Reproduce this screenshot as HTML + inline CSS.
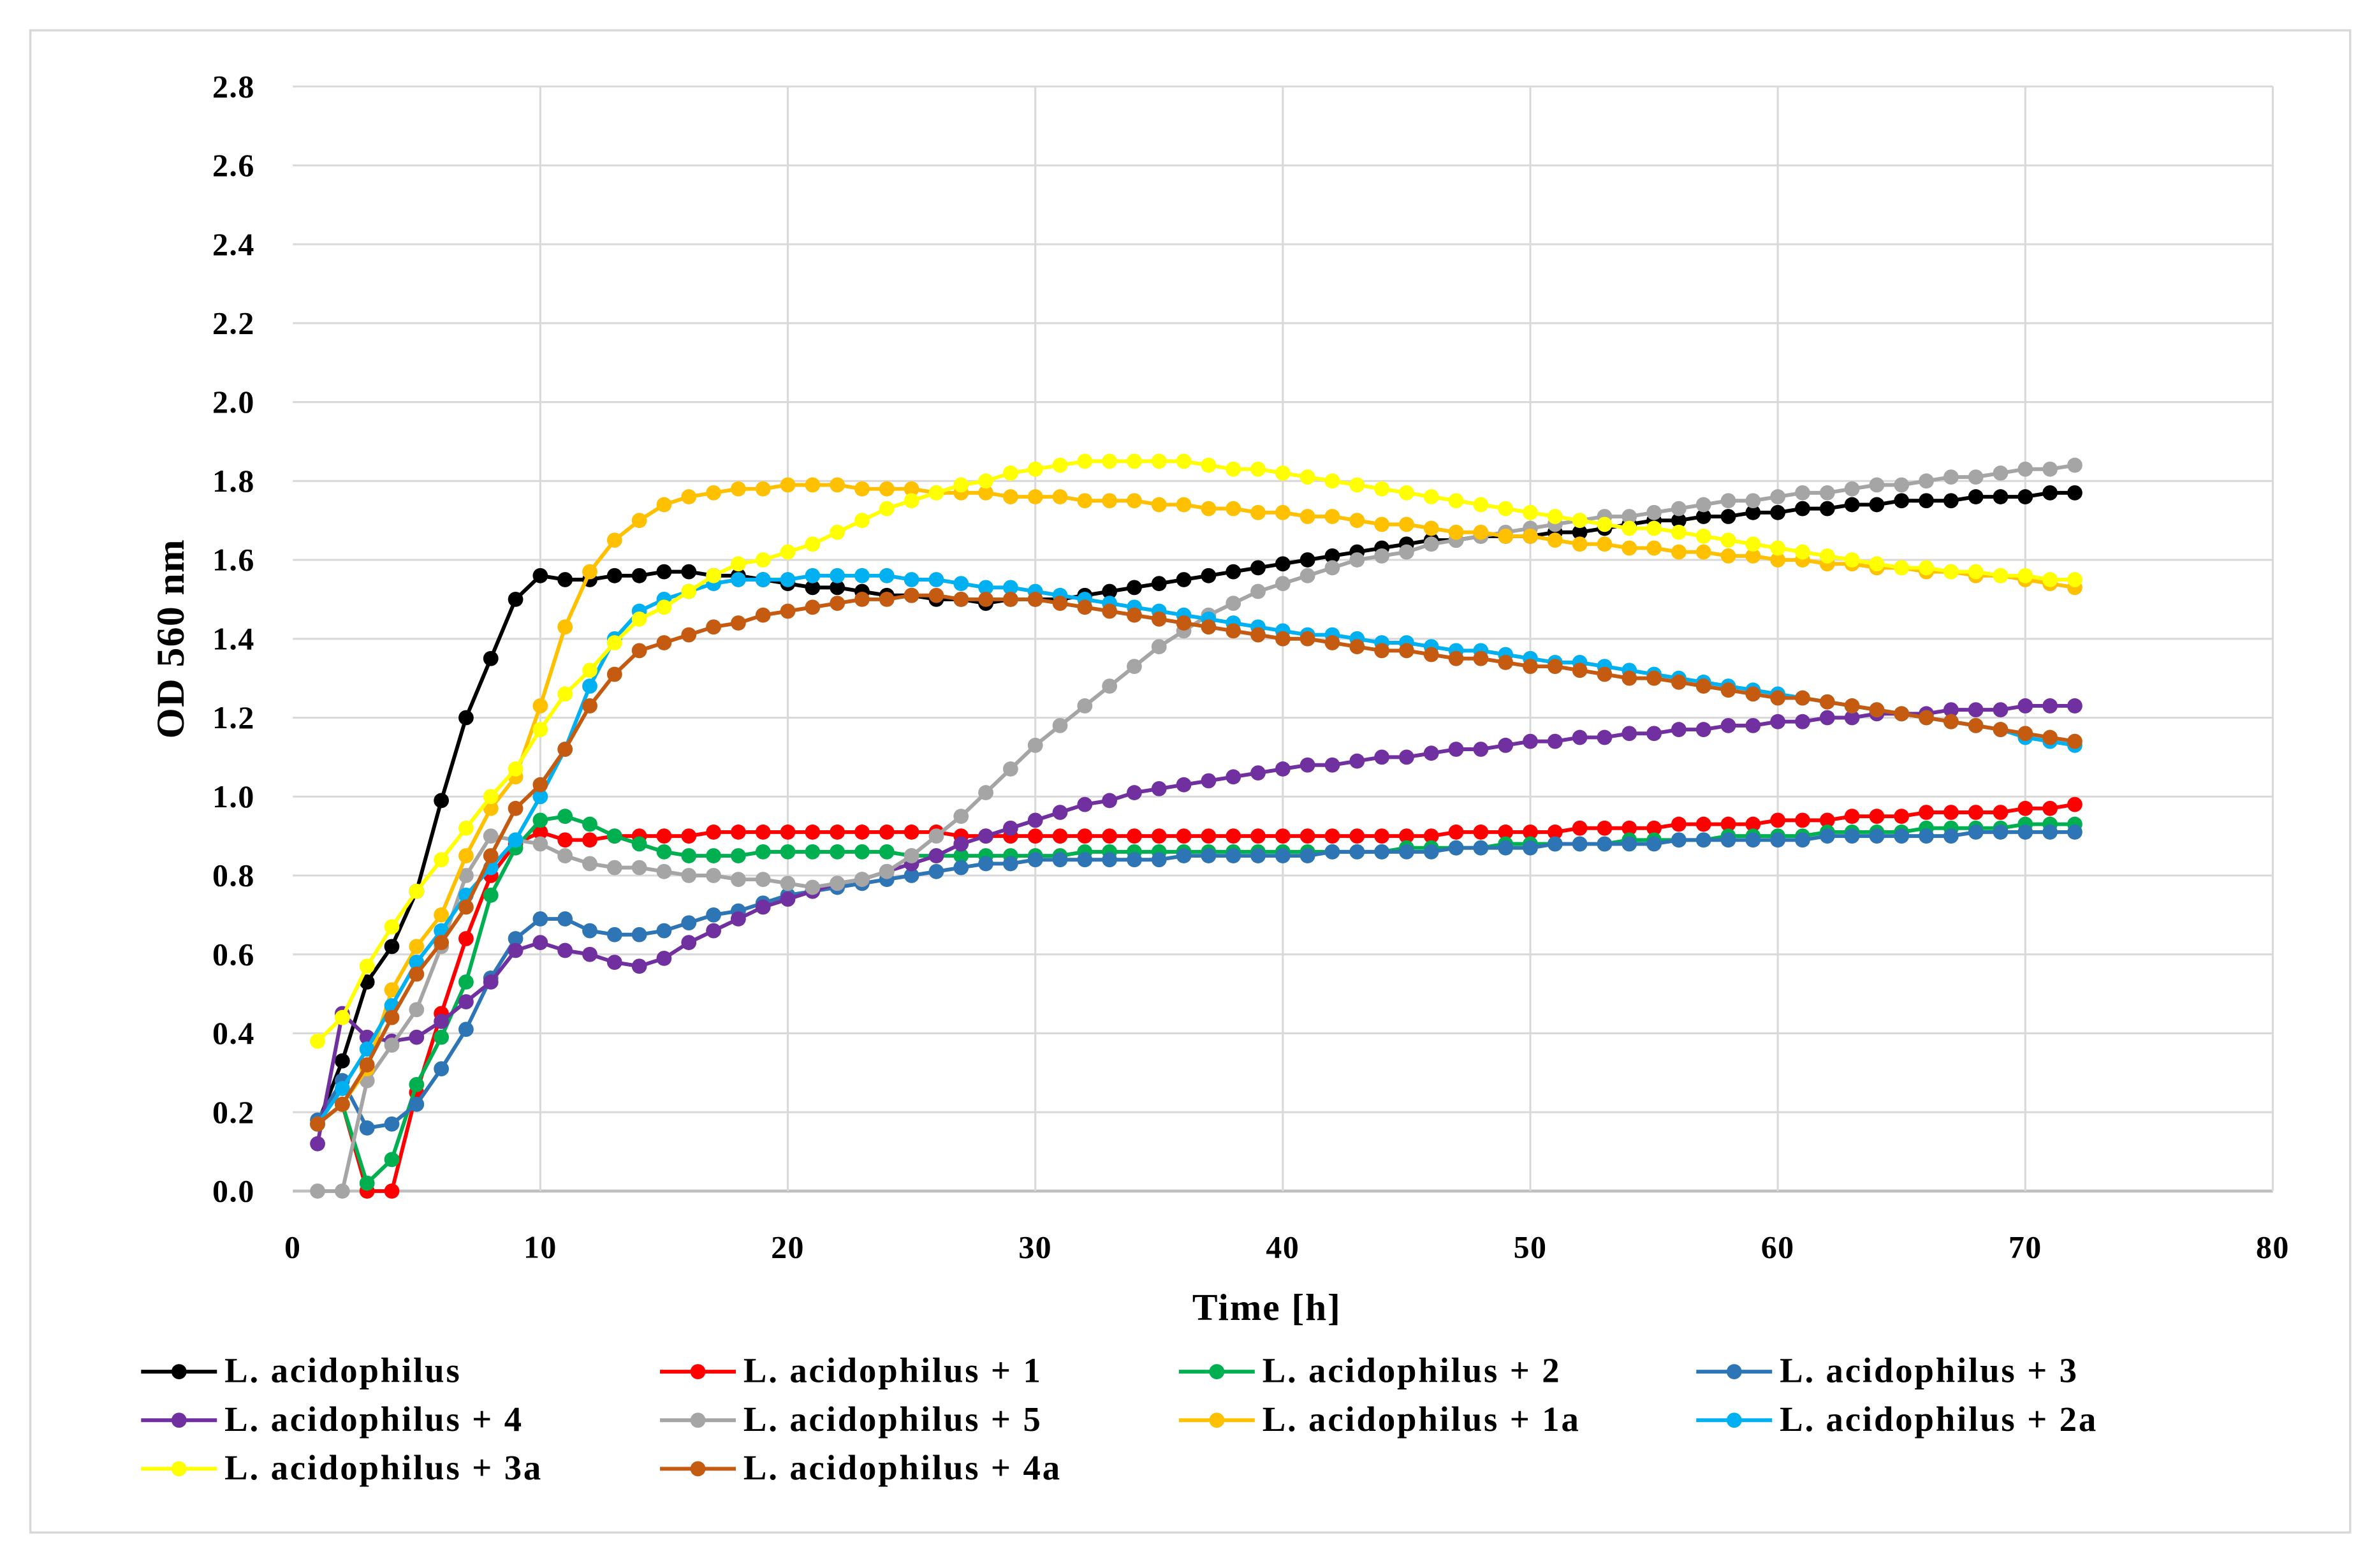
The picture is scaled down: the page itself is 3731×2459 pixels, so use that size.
<!DOCTYPE html>
<html><head><meta charset="utf-8">
<style>
html,body{margin:0;padding:0;background:#fff;}
svg{display:block;}
text{font-family:"Liberation Serif",serif;font-weight:bold;fill:#000;}
</style></head>
<body>
<svg id="chart" width="3731" height="2459" viewBox="0 0 1568 1033.4" preserveAspectRatio="none" xmlns="http://www.w3.org/2000/svg">
<rect x="20" y="20" width="1529" height="990" fill="#fff" stroke="#d9d9d9" stroke-width="1.5"/>
<g id="grid"></g>
<g id="axes"></g>
<g id="series"></g>
<text transform="translate(121,421) rotate(-90)" text-anchor="middle" font-size="26" letter-spacing="0.5">OD 560 nm</text>
<text x="835" y="870" text-anchor="middle" font-size="25" letter-spacing="0.8">Time [h]</text>
<g id="legend"></g>
</svg>
<script>
const xTicks = [0,10,20,30,40,50,60,70,80];
const yTicks = [0,0.2,0.4,0.6,0.8,1.0,1.2,1.4,1.6,1.8,2.0,2.2,2.4,2.6,2.8];
const seriesNames = ["L. acidophilus","L. acidophilus + 1","L. acidophilus + 2","L. acidophilus + 3","L. acidophilus + 4","L. acidophilus + 5","L. acidophilus + 1a","L. acidophilus + 2a","L. acidophilus + 3a","L. acidophilus + 4a"];
const seriesColors = ["#000000","#ff0000","#00b050","#2e75b6","#7030a0","#a5a5a5","#ffc000","#00b0f0","#ffff00","#c55a11"];
const sBlack = [0.17,0.33,0.53,0.62,0.76,0.99,1.20,1.35,1.50,1.56,1.55,1.55,1.56,1.56,1.57,1.57,1.56,1.56,1.55,1.54,1.53,1.53,1.52,1.51,1.51,1.50,1.50,1.49,1.50,1.50,1.50,1.51,1.52,1.53,1.54,1.55,1.56,1.57,1.58,1.59,1.60,1.61,1.62,1.63,1.64,1.65,1.65,1.66,1.66,1.66,1.67,1.67,1.68,1.69,1.70,1.70,1.71,1.71,1.72,1.72,1.73,1.73,1.74,1.74,1.75,1.75,1.75,1.76,1.76,1.76,1.77,1.77];
const sRed = [0.17,0.22,0.0,0.0,0.25,0.45,0.64,0.80,0.88,0.91,0.89,0.89,0.90,0.90,0.90,0.90,0.91,0.91,0.91,0.91,0.91,0.91,0.91,0.91,0.91,0.91,0.90,0.90,0.90,0.90,0.90,0.90,0.90,0.90,0.90,0.90,0.90,0.90,0.90,0.90,0.90,0.90,0.90,0.90,0.90,0.90,0.91,0.91,0.91,0.91,0.91,0.92,0.92,0.92,0.92,0.93,0.93,0.93,0.93,0.94,0.94,0.94,0.95,0.95,0.95,0.96,0.96,0.96,0.96,0.97,0.97,0.98];
const sGreen = [0.17,0.22,0.02,0.08,0.27,0.39,0.53,0.75,0.87,0.94,0.95,0.93,0.90,0.88,0.86,0.85,0.85,0.85,0.86,0.86,0.86,0.86,0.86,0.86,0.85,0.85,0.85,0.85,0.85,0.85,0.85,0.86,0.86,0.86,0.86,0.86,0.86,0.86,0.86,0.86,0.86,0.86,0.86,0.86,0.87,0.87,0.87,0.87,0.88,0.88,0.88,0.88,0.88,0.89,0.89,0.89,0.89,0.90,0.90,0.90,0.90,0.91,0.91,0.91,0.91,0.92,0.92,0.92,0.92,0.93,0.93,0.93];
const sBlue = [0.18,0.28,0.16,0.17,0.22,0.31,0.41,0.54,0.64,0.69,0.69,0.66,0.65,0.65,0.66,0.68,0.70,0.71,0.73,0.75,0.76,0.77,0.78,0.79,0.80,0.81,0.82,0.83,0.83,0.84,0.84,0.84,0.84,0.84,0.84,0.85,0.85,0.85,0.85,0.85,0.85,0.86,0.86,0.86,0.86,0.86,0.87,0.87,0.87,0.87,0.88,0.88,0.88,0.88,0.88,0.89,0.89,0.89,0.89,0.89,0.89,0.90,0.90,0.90,0.90,0.90,0.90,0.91,0.91,0.91,0.91,0.91];
const sPurple = [0.12,0.45,0.39,0.38,0.39,0.43,0.48,0.53,0.61,0.63,0.61,0.60,0.58,0.57,0.59,0.63,0.66,0.69,0.72,0.74,0.76,0.78,0.79,0.81,0.83,0.85,0.88,0.90,0.92,0.94,0.96,0.98,0.99,1.01,1.02,1.03,1.04,1.05,1.06,1.07,1.08,1.08,1.09,1.10,1.10,1.11,1.12,1.12,1.13,1.14,1.14,1.15,1.15,1.16,1.16,1.17,1.17,1.18,1.18,1.19,1.19,1.20,1.20,1.21,1.21,1.21,1.22,1.22,1.22,1.23,1.23,1.23];
const sGray = [0.0,0.0,0.28,0.37,0.46,0.62,0.80,0.90,0.89,0.88,0.85,0.83,0.82,0.82,0.81,0.80,0.80,0.79,0.79,0.78,0.77,0.78,0.79,0.81,0.85,0.90,0.95,1.01,1.07,1.13,1.18,1.23,1.28,1.33,1.38,1.42,1.46,1.49,1.52,1.54,1.56,1.58,1.60,1.61,1.62,1.64,1.65,1.66,1.67,1.68,1.69,1.70,1.71,1.71,1.72,1.73,1.74,1.75,1.75,1.76,1.77,1.77,1.78,1.79,1.79,1.80,1.81,1.81,1.82,1.83,1.83,1.84];
const sOrange = [0.17,0.22,0.31,0.51,0.62,0.70,0.85,0.97,1.05,1.23,1.43,1.57,1.65,1.70,1.74,1.76,1.77,1.78,1.78,1.79,1.79,1.79,1.78,1.78,1.78,1.77,1.77,1.77,1.76,1.76,1.76,1.75,1.75,1.75,1.74,1.74,1.73,1.73,1.72,1.72,1.71,1.71,1.70,1.69,1.69,1.68,1.67,1.67,1.66,1.66,1.65,1.64,1.64,1.63,1.63,1.62,1.62,1.61,1.61,1.60,1.60,1.59,1.59,1.58,1.58,1.57,1.57,1.56,1.56,1.55,1.54,1.53];
const sCyan = [0.17,0.26,0.36,0.47,0.58,0.66,0.75,0.82,0.89,1.00,1.12,1.28,1.40,1.47,1.50,1.52,1.54,1.55,1.55,1.55,1.56,1.56,1.56,1.56,1.55,1.55,1.54,1.53,1.53,1.52,1.51,1.50,1.49,1.48,1.47,1.46,1.45,1.44,1.43,1.42,1.41,1.41,1.40,1.39,1.39,1.38,1.37,1.37,1.36,1.35,1.34,1.34,1.33,1.32,1.31,1.30,1.29,1.28,1.27,1.26,1.25,1.24,1.23,1.22,1.21,1.20,1.19,1.18,1.17,1.15,1.14,1.13];
const sYellow = [0.38,0.44,0.57,0.67,0.76,0.84,0.92,1.00,1.07,1.17,1.26,1.32,1.39,1.45,1.48,1.52,1.56,1.59,1.60,1.62,1.64,1.67,1.70,1.73,1.75,1.77,1.79,1.80,1.82,1.83,1.84,1.85,1.85,1.85,1.85,1.85,1.84,1.83,1.83,1.82,1.81,1.80,1.79,1.78,1.77,1.76,1.75,1.74,1.73,1.72,1.71,1.70,1.69,1.68,1.68,1.67,1.66,1.65,1.64,1.63,1.62,1.61,1.60,1.59,1.58,1.58,1.57,1.57,1.56,1.56,1.55,1.55];
const sBrown = [0.17,0.22,0.32,0.44,0.55,0.63,0.72,0.85,0.97,1.03,1.12,1.23,1.31,1.37,1.39,1.41,1.43,1.44,1.46,1.47,1.48,1.49,1.50,1.50,1.51,1.51,1.50,1.50,1.50,1.50,1.49,1.48,1.47,1.46,1.45,1.44,1.43,1.42,1.41,1.40,1.40,1.39,1.38,1.37,1.37,1.36,1.35,1.35,1.34,1.33,1.33,1.32,1.31,1.30,1.30,1.29,1.28,1.27,1.26,1.25,1.25,1.24,1.23,1.22,1.21,1.20,1.19,1.18,1.17,1.16,1.15,1.14];
const seriesData = [sBlack,sRed,sGreen,sBlue,sPurple,sGray,sOrange,sCyan,sYellow,sBrown];

const NS = "http://www.w3.org/2000/svg";
const X0 = 193, X1 = 1498, Y0 = 785, Y1 = 57;
const xMax = 80, yMax = 2.8;
function xs(v){ return X0 + (v / xMax) * (X1 - X0); }
function ys(v){ return Y0 - (v / yMax) * (Y0 - Y1); }
function mk(tag, attrs, parent){
  const e = document.createElementNS(NS, tag);
  for (const k in attrs) e.setAttribute(k, attrs[k]);
  parent.appendChild(e);
  return e;
}
const grid = document.getElementById('grid');
const axes = document.getElementById('axes');
yTicks.forEach(function(t){
  const l = mk('line', {x1:X0, x2:X1, y1:ys(t), y2:ys(t), stroke: t===0 ? '#bfbfbf' : '#d9d9d9', 'stroke-width': t===0 ? 2 : 1.3}, grid);
  
  
  const tx = mk('text', {x:168, y:ys(t)+7, 'text-anchor':'end', 'font-size':21, 'letter-spacing':0.6}, axes);
  tx.textContent = t.toFixed(1);
  
  
});
xTicks.forEach(function(t){
  if (t > 0) {
    const l = mk('line', {x1:xs(t), x2:xs(t), y1:Y1, y2:Y0, stroke:'#d9d9d9', 'stroke-width':1.3}, grid);
    
    
  }
  const tx = mk('text', {x:xs(t), y:829, 'text-anchor':'middle', 'font-size':21, 'letter-spacing':0.6}, axes);
  tx.textContent = String(t);
  
  
});
const sg = document.getElementById('series');
seriesData.forEach(function(arr, si){
  const g = mk('g', {}, sg);
  
  
  const pts = arr.map(function(v, i){ return xs(i+1) + ',' + ys(v); }).join(' ');
  const pl = mk('polyline', {points:pts, fill:'none', stroke:seriesColors[si], 'stroke-width':2.5, 'stroke-linejoin':'round'}, g);
  
  
  arr.forEach(function(v, i){
    const c = mk('circle', {cx:xs(i+1), cy:ys(v), r:5, fill:seriesColors[si]}, g);
    
    
  });
});
const lg = document.getElementById('legend');
const colX = [93, 435, 777, 1118];
const rowY = [904, 936, 968];
seriesNames.forEach(function(n, i){
  const x = colX[i % 4], y = rowY[Math.floor(i / 4)];
  const g = mk('g', {}, lg);
  
  
  mk('line', {x1:x, x2:x+50, y1:y, y2:y, stroke:seriesColors[i], 'stroke-width':2.5}, g);
  mk('circle', {cx:x+25, cy:y, r:5, fill:seriesColors[i]}, g);
  const t = mk('text', {x:x+55, y:y+7, 'font-size':23, 'letter-spacing':1.2}, g);
  t.textContent = n;
});
</script>
</body></html>
